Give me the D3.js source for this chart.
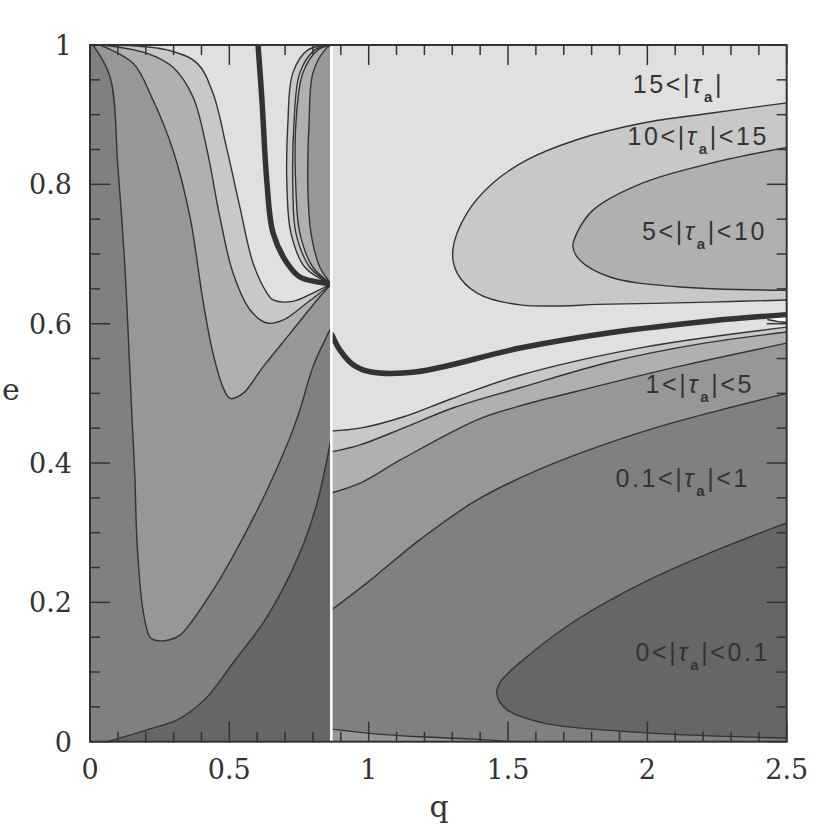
<!DOCTYPE html>
<html><head><meta charset="utf-8">
<script src="https://cdn.jsdelivr.net/npm/d3@7"></script>
<style>body{margin:0;background:#fff}</style>
</head><body>
<svg id="c" width="830" height="830"></svg>
<script>
// ---------------- data ----------------
const qSplit = 0.866; // discontinuity (white line)
const xTicksMajor = [0, 0.5, 1, 1.5, 2, 2.5];
const xTickLabels = ["0", "0.5", "1", "1.5", "2", "2.5"];
const yTicksMajor = [0, 0.2, 0.4, 0.6, 0.8, 1];
const yTickLabels = ["0", "0.2", "0.4", "0.6", "0.8", "1"];
const levelColors = ["#666666", "#808080", "#979797", "#b0b0b0", "#c8c8c8", "#e0e0e0"];
const levelLow = ["0", "0.1", "1", "5", "10", "15"];
const levelHigh = ["0.1", "1", "5", "10", "15", null];

// left panel (q < qSplit) contours
const leftC01 = [[0.061,0],[0.205,0.017],[0.312,0.031],[0.359,0.043],[0.420,0.064],[0.513,0.113],[0.635,0.179],[0.753,0.271],[0.815,0.343],[0.866,0.437]];
const leftC12 = [[0.011,1.0],[0.072,0.954],[0.100,0.825],[0.125,0.682],[0.151,0.462],[0.161,0.380],[0.169,0.285],[0.190,0.189],[0.215,0.150],[0.230,0.146],[0.283,0.146],[0.323,0.153],[0.431,0.211],[0.513,0.266],[0.635,0.361],[0.718,0.437],[0.753,0.476],[0.800,0.538],[0.866,0.595]];
const leftC23 = [[0.036,1.0],[0.154,0.974],[0.226,0.921],[0.298,0.849],[0.359,0.753],[0.405,0.634],[0.441,0.558],[0.477,0.509],[0.502,0.493],[0.549,0.500],[0.621,0.538],[0.718,0.586],[0.815,0.634],[0.866,0.657]];
const leftC34 = [[0.045,1.0],[0.205,0.988],[0.298,0.968],[0.370,0.925],[0.420,0.849],[0.466,0.753],[0.513,0.673],[0.574,0.620],[0.635,0.601],[0.692,0.605],[0.779,0.630],[0.866,0.657]];
const leftC45 = [[0.07,1.0],[0.276,0.993],[0.384,0.974],[0.441,0.931],[0.492,0.849],[0.538,0.767],[0.585,0.687],[0.635,0.644],[0.657,0.634],[0.728,0.632],[0.800,0.644],[0.866,0.657]];
const leftThick = [[0.603,1.0],[0.617,0.921],[0.635,0.802],[0.657,0.730],[0.707,0.687],[0.753,0.667],[0.815,0.660],[0.866,0.657]];
const leftA = [[0.866,1.0],[0.782,0.993],[0.728,0.960],[0.710,0.888],[0.707,0.792],[0.721,0.730],[0.771,0.681],[0.866,0.657]];
const leftB = [[0.866,1.0],[0.807,0.993],[0.753,0.960],[0.732,0.888],[0.728,0.792],[0.739,0.730],[0.789,0.681],[0.866,0.657]];
const leftC = [[0.866,1.0],[0.818,0.993],[0.764,0.960],[0.739,0.888],[0.739,0.792],[0.753,0.730],[0.800,0.681],[0.866,0.657]];
const leftD = [[0.866,1.0],[0.843,0.993],[0.800,0.960],[0.786,0.888],[0.782,0.792],[0.793,0.730],[0.825,0.681],[0.866,0.657]];

// right panel (q > qSplit) contours
const rightLobe4 = [[2.5,0.917],[2.225,0.902],[1.984,0.888],[1.747,0.864],[1.568,0.835],[1.446,0.802],[1.353,0.759],[1.302,0.706],[1.317,0.673],[1.389,0.644],[1.543,0.627],[1.866,0.628],[2.225,0.631],[2.5,0.634]];
const rightLobe3 = [[2.5,0.853],[2.225,0.830],[1.984,0.802],[1.805,0.763],[1.747,0.730],[1.733,0.710],[1.758,0.691],[1.866,0.667],[2.106,0.653],[2.5,0.648]];
const rightThick = [[0.868,0.584],[0.897,0.562],[0.944,0.541],[1.005,0.531],[1.173,0.531],[1.543,0.565],[1.866,0.587],[2.225,0.604],[2.5,0.613]];
const rightSliver = [[2.43,0.606],[2.47,0.603],[2.5,0.602]];
const rightR1 = [[0.866,0.446],[0.969,0.450],[1.123,0.466],[1.302,0.493],[1.543,0.526],[1.984,0.566],[2.5,0.595]];
const rightR2 = [[0.866,0.416],[0.969,0.426],[1.123,0.450],[1.302,0.479],[1.543,0.508],[1.866,0.545],[2.189,0.571],[2.5,0.588]];
const rightR3 = [[0.866,0.357],[0.969,0.371],[1.112,0.404],[1.389,0.462],[1.543,0.482],[1.747,0.503],[2.106,0.538],[2.5,0.572]];
const rightR4 = [[0.866,0.189],[0.994,0.228],[1.184,0.290],[1.389,0.347],[1.625,0.393],[1.984,0.445],[2.261,0.476],[2.5,0.500]];
const rightR5 = [[2.5,0.314],[2.225,0.271],[1.984,0.228],[1.747,0.175],[1.568,0.122],[1.471,0.085],[1.460,0.068],[1.496,0.046],[1.625,0.027],[1.984,0.013],[2.5,0.005]];
const rightR6 = [[0.866,0.018],[1.005,0.012],[1.184,0.007],[1.363,0.004],[1.52,0.0]];

// ---------------- drawing ----------------
const svg = d3.select("#c");
const x = d3.scaleLinear().domain([0, 2.5]).range([90, 786.7]);
const y = d3.scaleLinear().domain([0, 1]).range([741.7, 45]);
const line = d3.line().x(d => x(d[0])).y(d => y(d[1])).curve(d3.curveCatmullRom.alpha(0.5));
const ink = "#333333";
function region(pts, corners) {
  let p = line(pts);
  corners.forEach(c => { p += `L${x(c[0])},${y(c[1])}`; });
  return p + "Z";
}
const defs = svg.append("defs");
defs.append("clipPath").attr("id", "clipL").append("rect")
  .attr("x", x(0)).attr("y", y(1)).attr("width", x(qSplit) - x(0)).attr("height", y(0) - y(1));
defs.append("clipPath").attr("id", "clipR").append("rect")
  .attr("x", x(qSplit)).attr("y", y(1)).attr("width", x(2.5) - x(qSplit)).attr("height", y(0) - y(1));

// left panel
const gL = svg.append("g").attr("clip-path", "url(#clipL)");
gL.append("rect").attr("x", x(0)).attr("y", y(1)).attr("width", x(qSplit) - x(0)).attr("height", y(0) - y(1)).attr("fill", levelColors[1]);
const leftFills = [
  [leftC12, [[qSplit, 1]], 2],
  [leftC01, [[qSplit, 0]], 0],
  [leftC23, [[qSplit, 1]], 3],
  [leftC34, [[qSplit, 1]], 4],
  [leftC45, [[qSplit, 1]], 5],
  [leftA, [], 4],
  [leftC, [], 3],
  [leftD, [], 2]
];
leftFills.forEach(f => gL.append("path").attr("d", region(f[0], f[1])).attr("fill", levelColors[f[2]]));
[leftC01, leftC12, leftC23, leftC34, leftC45, leftA, leftB, leftC, leftD].forEach(c =>
  gL.append("path").attr("d", line(c)).attr("fill", "none").attr("stroke", ink).attr("stroke-width", 1.4));
gL.append("path").attr("d", line(leftThick)).attr("fill", "none").attr("stroke", ink).attr("stroke-width", 5.5).attr("stroke-linecap", "round");

// right panel
const gR = svg.append("g").attr("clip-path", "url(#clipR)");
gR.append("rect").attr("x", x(qSplit)).attr("y", y(1)).attr("width", x(2.5) - x(qSplit)).attr("height", y(0) - y(1)).attr("fill", levelColors[5]);
const rightFills = [
  [rightLobe4, [], 4],
  [rightLobe3, [], 3],
  [rightR1, [[2.5, 0], [qSplit, 0]], 4],
  [rightR2, [[2.5, 0], [qSplit, 0]], 3],
  [rightR3, [[2.5, 0], [qSplit, 0]], 2],
  [rightR4, [[2.5, 0], [qSplit, 0]], 1],
  [rightR5, [], 0],
  [rightR6, [[qSplit, 0]], 2]
];
rightFills.forEach(f => gR.append("path").attr("d", region(f[0], f[1])).attr("fill", levelColors[f[2]]));
gR.append("path").attr("d", region(rightSliver, [[2.5, 0.612], [2.43, 0.609]])).attr("fill", "#ffffff");
[rightLobe4, rightLobe3, rightR1, rightR2, rightR3, rightR4, rightR5, rightR6, rightSliver].forEach(c =>
  gR.append("path").attr("d", line(c)).attr("fill", "none").attr("stroke", ink).attr("stroke-width", 1.4));
gR.append("path").attr("d", line(rightThick)).attr("fill", "none").attr("stroke", ink).attr("stroke-width", 5.5).attr("stroke-linecap", "round");

// discontinuity
svg.append("line").attr("x1", x(qSplit)).attr("x2", x(qSplit)).attr("y1", y(1)).attr("y2", y(0) + 1)
  .attr("stroke", "#ffffff").attr("stroke-width", 2.5);

// frame and ticks
const gA = svg.append("g").attr("stroke", ink).attr("stroke-width", 1.5);
gA.append("rect").attr("x", x(0)).attr("y", y(1)).attr("width", x(2.5) - x(0)).attr("height", y(0) - y(1))
  .attr("fill", "none").attr("stroke-width", 2);
const xMinor = d3.range(0, 26).map(i => i / 10);
const yMinor = d3.range(0, 21).map(i => i / 20);
xMinor.forEach(v => {
  const L = (Math.round(v * 10) % 5 === 0) ? 20 : 10;
  gA.append("line").attr("x1", x(v)).attr("x2", x(v)).attr("y1", y(0)).attr("y2", y(0) - L);
  gA.append("line").attr("x1", x(v)).attr("x2", x(v)).attr("y1", y(1)).attr("y2", y(1) + L);
});
yMinor.forEach(v => {
  const L = (Math.round(v * 20) % 4 === 0) ? 20 : 10;
  gA.append("line").attr("y1", y(v)).attr("y2", y(v)).attr("x1", x(0)).attr("x2", x(0) + L);
  gA.append("line").attr("y1", y(v)).attr("y2", y(v)).attr("x1", x(2.5)).attr("x2", x(2.5) - L);
});

const tickFont = "'DejaVu Serif', serif";
xTicksMajor.forEach((v, i) => svg.append("text").attr("x", x(v)).attr("y", 779)
  .attr("text-anchor", "middle").attr("font-family", tickFont).attr("font-size", 27).attr("fill", ink).text(xTickLabels[i]));
yTicksMajor.forEach((v, i) => svg.append("text").attr("x", 72).attr("y", y(v) + 10)
  .attr("text-anchor", "end").attr("font-family", tickFont).attr("font-size", 27).attr("fill", ink).text(yTickLabels[i]));
svg.append("text").attr("x", 11).attr("y", 400).attr("text-anchor", "middle").attr("font-family", tickFont)
  .attr("font-size", 30).attr("fill", ink).text("e");
svg.append("text").attr("x", 439).attr("y", 817).attr("text-anchor", "middle").attr("font-family", tickFont)
  .attr("font-size", 30).attr("fill", ink).text("q");

// region labels
const labelPos = [[770, 661], [750, 487], [754, 393], [767, 240], [769, 145], [724, 93]];
levelLow.forEach((lo, i) => {
  const t = svg.append("text").attr("x", labelPos[i][0]).attr("y", labelPos[i][1]).attr("text-anchor", "end")
    .attr("font-family", "'Liberation Sans', Arial, sans-serif").attr("font-size", 25).attr("fill", ink)
    .attr("letter-spacing", 2.6);
  t.append("tspan").text(lo + "<|");
  t.append("tspan").attr("font-style", "italic").text("τ");
  t.append("tspan").attr("dy", 9).attr("font-size", 15).attr("font-weight", "bold").text("a");
  t.append("tspan").attr("dy", -9).text("|" + (levelHigh[i] ? "<" + levelHigh[i] : ""));
});
</script>
</body></html>
